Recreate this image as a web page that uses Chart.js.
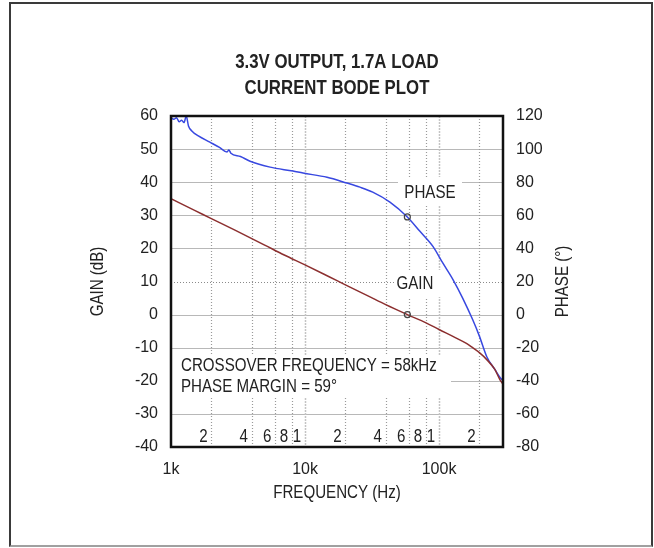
<!DOCTYPE html>
<html>
<head>
<meta charset="utf-8">
<script src="https://cdn.jsdelivr.net/npm/chart.js@4/dist/chart.umd.min.js"></script>
<style>
  body { margin: 0; background: #fff; }
  #wrap { position: relative; width: 654px; height: 548px; }
  #frame { position: absolute; left: 9px; top: 2px; width: 640px; height: 541px;
           border: 2px solid #3a3a3a; border-bottom-color: #a0a0a0; pointer-events: none; }
</style>
</head>
<body>
<div id="wrap">
  <canvas id="bode" width="654" height="548"></canvas>
  <div id="frame"></div>
</div>
<script>
const FONT = "'Liberation Sans', Arial, sans-serif";

// gain curve (left axis, dB)
const gainFreq = [1000, 1500, 2000, 3000, 5000, 7000, 10000, 15000, 20000, 30000, 40000, 58000, 80000, 100000, 130000, 160000, 178000, 200000, 227000, 260000, 285000, 300000];
const gainDb = [35, 31.5, 29, 25.5, 21, 18, 15, 11.5, 9, 5.5, 3, 0, -2.5, -4.5, -6.8, -8.7, -10, -11.5, -13.6, -16.5, -19.7, -21];

// phase curve (right axis, degrees)
const phaseFreq = [1000, 1050, 1100, 1150, 1200, 1250, 1300, 1350, 1430, 1600, 1950, 2300, 2620, 2700, 2800, 3300, 3890, 5490, 8130, 9660, 14600, 20500, 25700, 32000, 43000, 58000, 72000, 90000, 106000, 127000, 150000, 178000, 200000, 227000, 260000, 285000, 300000];
const phaseDeg = [119, 118, 119, 116.5, 117.5, 116, 120, 114, 111, 108, 104.2, 101, 98.2, 99.5, 97.5, 95.5, 92.7, 89.1, 86.7, 85.5, 83, 79.5, 77, 74, 68, 59, 50.3, 41.2, 31.5, 21.2, 10, -3, -13, -25.5, -33, -38, -40];

// crossover markers
const crossFreq = 58000;
const crossGain = 0;
const crossPhase = 59;

// axis ticks
const decadeTicks = [1000, 10000, 100000];
const decadeLabels = ["1k", "10k", "100k"];
const gainTicks = [-40, -30, -20, -10, 0, 10, 20, 30, 40, 50, 60];
const phaseTicks = [-80, -60, -40, -20, 0, 20, 40, 60, 80, 100, 120];
const minorFreq = [2000, 4000, 6000, 8000, 10000, 20000, 40000, 60000, 80000, 100000, 200000];
const minorText = ["2", "4", "6", "8", "1", "2", "4", "6", "8", "1", "2"];

const titleLines = ["3.3V OUTPUT, 1.7A LOAD", "CURRENT BODE PLOT"];

const gainPts = gainFreq.map((f, i) => ({ x: f, y: gainDb[i] }));
const phasePts = phaseFreq.map((f, i) => ({ x: f, y: phaseDeg[i] }));

// condensed text: regular font squeezed horizontally, like Arial Narrow
function narrow(ctx, txt, x, y, align, size, bold) {
  ctx.save();
  ctx.translate(x, y);
  ctx.scale(0.84, 1);
  ctx.font = (bold ? "bold " : "") + size + "px " + FONT;
  ctx.textAlign = align;
  ctx.textBaseline = "middle";
  ctx.fillStyle = "#222";
  ctx.fillText(txt, 0, 0);
  ctx.restore();
}

const decorPlugin = {
  id: "decor",
  beforeDatasetsDraw(chart) {
    const { ctx, chartArea: a, scales } = chart;
    const x = scales.x, y = scales.y;
    ctx.save();
    // horizontal grid
    gainTicks.forEach(v => {
      if (v === 60 || v === -40) return;
      const py = Math.round(y.getPixelForValue(v)) + 0.5;
      ctx.beginPath();
      ctx.strokeStyle = v === 10 ? "#8a8a8a" : "#b8b8b8";
      ctx.lineWidth = 1.2;
      ctx.setLineDash(v === 10 ? [1, 2] : []);
      ctx.moveTo(a.left, py); ctx.lineTo(a.right, py); ctx.stroke();
    });
    // vertical grid
    minorFreq.forEach(f => {
      const px = Math.round(x.getPixelForValue(f)) + 0.5;
      const dec = f === 10000 || f === 100000;
      ctx.beginPath();
      ctx.strokeStyle = dec ? "#c4c4c4" : "#9a9a9a";
      ctx.lineWidth = dec ? 1.5 : 1.2;
      ctx.setLineDash(dec ? [2, 1] : [1, 2]);
      ctx.moveTo(px, a.top); ctx.lineTo(px, a.bottom); ctx.stroke();
    });
    ctx.setLineDash([]);
    // white boxes behind in-plot labels
    ctx.fillStyle = "#fff";
    ctx.fillRect(398, 177, 64, 29);
    ctx.fillRect(395, 270, 57, 27);
    ctx.fillRect(a.left + 1, 355, 279, 43);
    ctx.restore();
    // in-plot text
    narrow(ctx, "PHASE", 430, 193, "center", 18);
    narrow(ctx, "GAIN", 415, 284, "center", 18);
    minorFreq.forEach((f, i) => {
      narrow(ctx, minorText[i], x.getPixelForValue(f) - 8, 437, "center", 18);
    });
    narrow(ctx, "CROSSOVER FREQUENCY = 58kHz", 181, 366, "left", 18);
    narrow(ctx, "PHASE MARGIN = 59°", 181, 387, "left", 18);
  },
  afterDraw(chart) {
    const { ctx, chartArea: a } = chart;
    ctx.save();
    ctx.strokeStyle = "#111";
    ctx.lineWidth = 2.5;
    ctx.strokeRect(a.left, a.top, a.right - a.left, a.bottom - a.top);
    ctx.restore();
    const mid = (a.left + a.right) / 2;
    narrow(ctx, titleLines[0], mid, 62, "center", 20, true);
    narrow(ctx, titleLines[1], mid, 88, "center", 20, true);
    // axis titles, both reading bottom to top
    const cy = (a.top + a.bottom) / 2;
    ctx.save();
    ctx.translate(98, cy);
    ctx.rotate(-Math.PI / 2);
    narrow(ctx, "GAIN (dB)", 0, 0, "center", 18);
    ctx.restore();
    ctx.save();
    ctx.translate(563, cy);
    ctx.rotate(-Math.PI / 2);
    narrow(ctx, "PHASE (°)", 0, 0, "center", 18);
    ctx.restore();
    narrow(ctx, "FREQUENCY (Hz)", mid, 493, "center", 18);
  }
};

new Chart(document.getElementById("bode"), {
  type: "line",
  data: {
    datasets: [
      {
        label: "gain mark",
        data: [{ x: crossFreq, y: crossGain }],
        yAxisID: "y",
        showLine: false,
        pointRadius: 3,
        pointBorderWidth: 1.2,
        pointBorderColor: "#444",
        pointBackgroundColor: "rgba(255,255,255,0)",
      },
      {
        label: "phase mark",
        data: [{ x: crossFreq, y: crossPhase }],
        yAxisID: "y2",
        showLine: false,
        pointRadius: 3,
        pointBorderWidth: 1.2,
        pointBorderColor: "#444",
        pointBackgroundColor: "rgba(255,255,255,0)",
      },
      {
        label: "GAIN",
        data: gainPts,
        yAxisID: "y",
        borderColor: "#8c2f2f",
        borderWidth: 1.5,
        pointRadius: 0,
        cubicInterpolationMode: "monotone",
      },
      {
        label: "PHASE",
        data: phasePts,
        yAxisID: "y2",
        borderColor: "#3848e0",
        borderWidth: 1.5,
        pointRadius: 0,
        cubicInterpolationMode: "monotone",
      },
    ],
  },
  options: {
    responsive: false,
    animation: false,
    devicePixelRatio: 1,
    layout: { padding: { top: 116 } },
    plugins: {
      legend: { display: false },
      tooltip: { enabled: false },
    },
    scales: {
      x: {
        type: "logarithmic",
        min: 1000,
        max: 300000,
        grid: { display: false, drawTicks: false },
        border: { display: false },
        afterBuildTicks: s => { s.ticks = decadeTicks.map(v => ({ value: v })); },
        afterFit: s => { s.height = 101; },
        ticks: {
          color: "#222",
          font: { family: FONT, size: 16 },
          padding: 13,
          maxRotation: 0,
          callback: v => decadeLabels[decadeTicks.indexOf(v)],
        },
      },
      y: {
        position: "left",
        min: -40,
        max: 60,
        grid: { display: false, drawTicks: false },
        border: { display: false },
        afterBuildTicks: s => { s.ticks = gainTicks.map(v => ({ value: v })); },
        afterFit: s => { s.width = 171; },
        ticks: { color: "#222", font: { family: FONT, size: 16 }, padding: 13 },
      },
      y2: {
        position: "right",
        min: -80,
        max: 120,
        grid: { display: false, drawTicks: false },
        border: { display: false },
        afterBuildTicks: s => { s.ticks = phaseTicks.map(v => ({ value: v })); },
        afterFit: s => { s.width = 151; },
        ticks: { color: "#222", font: { family: FONT, size: 16 }, padding: 13 },
      },
    },
  },
  plugins: [decorPlugin],
});
</script>
</body>
</html>
